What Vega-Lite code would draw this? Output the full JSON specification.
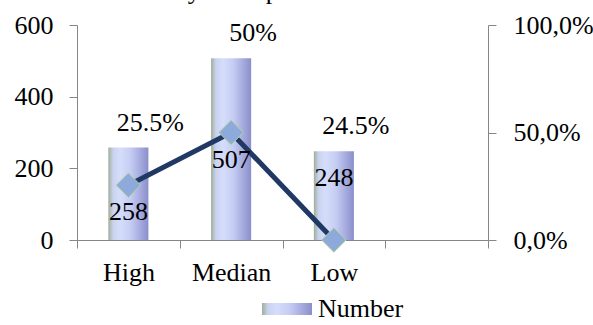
{
  "$schema": "https://vega.github.io/schema/vega-lite/v6.json",
  "width": 411,
  "height": 215,
  "autosize": {"type": "none"},
  "padding": {"left": 77, "top": 25, "right": 105, "bottom": 85},
  "background": "white",
  "title": {"text": "which can convey an implicit attitude.", "anchor": "start", "frame": "group", "font": "Liberation Serif", "fontSize": 26, "fontWeight": "normal", "color": "black", "baseline": "alphabetic", "offset": 0, "dx": -64, "dy": 13},
  "config": {
    "view": {"stroke": null},
    "font": "Liberation Serif",
    "axis": {"labelFont": "Liberation Serif", "labelFontSize": 26, "labelColor": "black", "domainColor": "#868686", "tickColor": "#868686", "tickSize": 8, "grid": false, "title": null}
  },
  "data": {"values": [
    {"cat": "High", "idx": 1, "num": 258, "pct": 0.255, "label": "25.5%"},
    {"cat": "Median", "idx": 2, "num": 507, "pct": 0.5, "label": "50%"},
    {"cat": "Low", "idx": 3, "num": 248, "pct": 0, "label": "24.5%"}
  ]},
  "encoding": {
    "x": {"field": "cat", "type": "nominal", "scale": {"domain": ["High", "Median", "Low", " "], "paddingInner": 0, "paddingOuter": 0},
      "axis": {"labelAngle": 0, "tickBand": "extent", "labelPadding": 11, "title": null}}
  },
  "layer": [
    {
      "encoding": {"y": {"field": "num", "type": "quantitative", "scale": {"domain": [0, 600]}, "axis": {"values": [0, 200, 400, 600], "labelPadding": 16, "title": null}}},
      "layer": [
        {"mark": {"type": "bar", "width": {"band": 0.39}, "color": {"gradient": "linear", "x1": 0, "x2": 1, "y1": 0, "y2": 0, "stops": [
             {"offset": 0, "color": "#9fae98"}, {"offset": 0.12, "color": "#c9d3f0"}, {"offset": 0.3, "color": "#d5ddfb"}, {"offset": 0.55, "color": "#c6cdf3"}, {"offset": 1, "color": "#8a8fcb"}]}},
         "encoding": {"opacity": {"datum": "Number", "type": "nominal",
           "scale": {"range": [1]},
           "legend": {"title": null, "orient": "none", "legendX": 185, "legendY": 259, "symbolType": "M-1,-0.24L1,-0.24L1,0.24L-1,0.24Z", "symbolSize": 2500, "symbolStrokeWidth": 0, "symbolFillColor": "#c0c7f0", "symbolOpacity": 1, "labelFont": "Liberation Serif", "labelFontSize": 26, "labelColor": "black", "labelOffset": 6,
             "encode": {"symbols": {"update": {"fill": {"value": {"gradient": "linear", "x1": 0, "x2": 1, "y1": 0, "y2": 0, "stops": [
             {"offset": 0, "color": "#9fae98"}, {"offset": 0.12, "color": "#c9d3f0"}, {"offset": 0.3, "color": "#d5ddfb"}, {"offset": 0.55, "color": "#c6cdf3"}, {"offset": 1, "color": "#8a8fcb"}]}}, "opacity": {"value": 1}}}}}}}},
        {"mark": {"type": "text", "font": "Liberation Serif", "fontSize": 26, "color": "black", "dx": 22, "dy": -25, "baseline": "middle"},
         "encoding": {"text": {"field": "label"}}}
      ]
    },
    {
      "encoding": {"y": {"field": "pct", "type": "quantitative", "scale": {"domain": [0, 1]},
        "axis": {"orient": "right", "values": [0, 0.5, 1], "labelPadding": 17, "labelExpr": "replace(format(datum.value, '.1%'), '.', ',')", "title": null}}},
      "layer": [
        {"mark": {"type": "line", "color": "#1f3864", "strokeWidth": 5}, "encoding": {"order": {"field": "idx"}}},
        {"mark": {"type": "point", "shape": "diamond", "size": 600, "filled": true, "fill": "#8eaadb", "stroke": "#b5d49a", "strokeWidth": 1, "opacity": 1}},
        {"mark": {"type": "text", "font": "Liberation Serif", "fontSize": 26, "color": "black", "baseline": "middle", "dy": {"expr": "datum.cat === 'Low' ? -62 : 27"}},
         "encoding": {"text": {"field": "num"}}}
      ]
    }
  ],
  "resolve": {"scale": {"y": "independent"}}
}
